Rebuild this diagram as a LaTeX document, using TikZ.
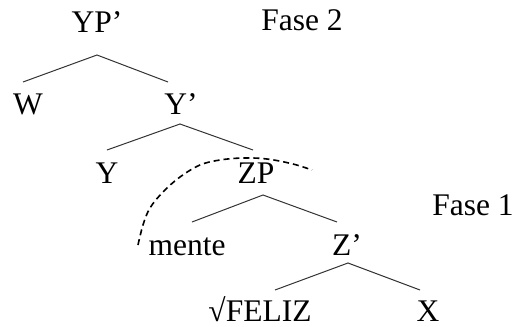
\documentclass[tikz,border=0pt]{standalone}
\usepackage{fontspec}
\setmainfont{Liberation Serif}
\usetikzlibrary{calc}
\begin{document}
\begin{tikzpicture}[x=1pt,y=-1pt,
  lab/.style={anchor=base,inner sep=0pt,text depth=0pt,font=\fontsize{31.5}{36}\selectfont},
  branch/.style={line width=1pt,draw=black!80},
  phase/.style={line width=1.6pt,dash pattern=on 6pt off 4pt}]
\useasboundingbox (0,0) rectangle (515,327);
\node[lab] (yp) at (97,32) {YP’};
\node[lab] (f2) at (302,30) {Fase 2};
\node[lab] (w) at (28,114) {W};
\node[lab] (ybar) at (181,114) {Y’};
\node[lab] (y) at (107,183) {Y};
\node[lab] (zp) at (256,183) {ZP};
\node[lab] (f1) at (473,215) {Fase 1};
\node[lab] (mente) at (187,255) {mente};
\node[lab] (zbar) at (347,255) {Z’};
\node[lab] (feliz) at (260,321) {√FELIZ};
\node[lab] (x) at (428,321) {X};
\draw[branch] ($(w.base)+(-5,-32)$) -- ($(yp.base)+(0,23)$) -- ($(ybar.base)+(-13,-32)$);
\draw[branch] ($(y.base)+(0,-33)$) -- ($(ybar.base)+(-1,10)$) -- ($(zp.base)+(-3,-33)$);
\draw[branch] ($(mente.base)+(5,-33)$) -- ($(zp.base)+(7,12)$) -- ($(zbar.base)+(-10,-33)$);
\draw[branch] ($(feliz.base)+(15,-31)$) -- ($(zbar.base)+(1,8)$) -- ($(x.base)+(-8,-31)$);
\coordinate (arcstart) at ($(mente.base)+(-49,-10)$);
\coordinate (arcend) at ($(zp.base)+(56,-13)$);
\draw[phase] plot[smooth,tension=0.6] coordinates {(arcstart) (143,225) (150,208) (163,192) (180,177) (200,165) (220,160) (243,158) (267,159) (293,164) (arcend)};
\end{tikzpicture}
\end{document}
